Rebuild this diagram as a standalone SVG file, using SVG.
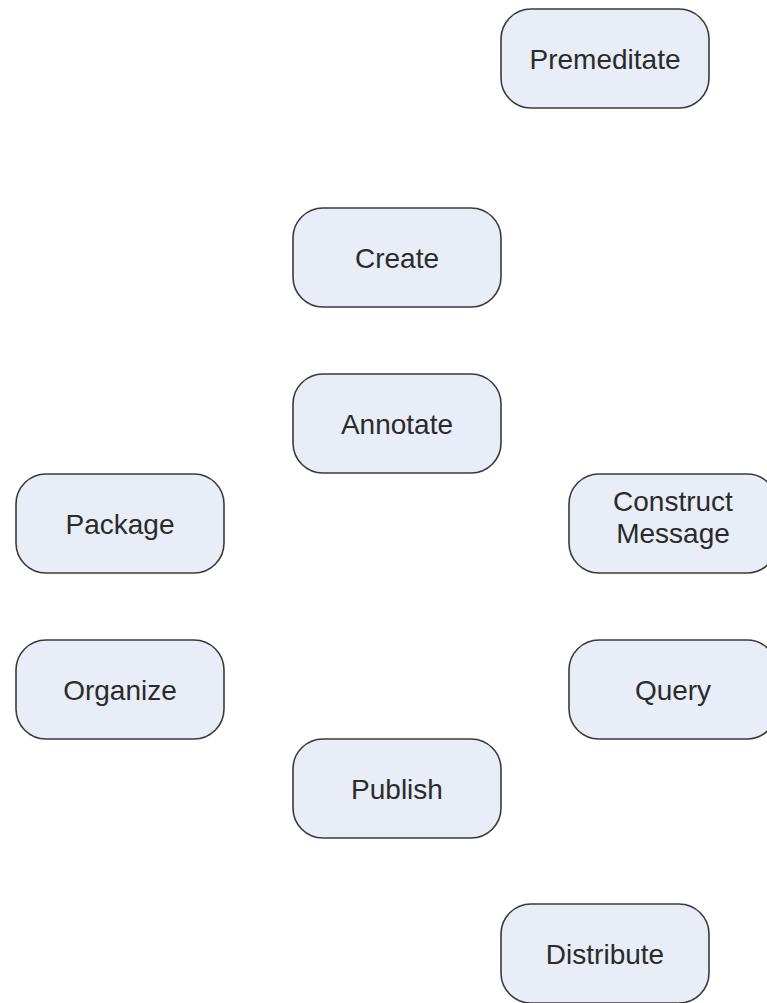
<svg xmlns="http://www.w3.org/2000/svg" width="767" height="1003" viewBox="0 0 767 1003">
  <style>
    .box { fill: #e8edf7; stroke: #3a3a3a; stroke-width: 1.6; }
    .lbl { font-family: "Liberation Sans", Arial, sans-serif; font-size: 28px; fill: #2b2b2b; text-anchor: middle; }
  </style>
  <rect width="767" height="1003" fill="#ffffff"/>
  <g id="connectors"></g>
  <g id="premeditate">
    <rect class="box" x="501" y="9" width="208" height="99" rx="30" ry="30"/>
    <text class="lbl" x="605" y="68.5">Premeditate</text>
  </g>
  <g id="create">
    <rect class="box" x="293" y="208" width="208" height="99" rx="30" ry="30"/>
    <text class="lbl" x="397" y="267.5">Create</text>
  </g>
  <g id="annotate">
    <rect class="box" x="293" y="374" width="208" height="99" rx="30" ry="30"/>
    <text class="lbl" x="397" y="433.5">Annotate</text>
  </g>
  <g id="package">
    <rect class="box" x="16" y="474" width="208" height="99" rx="30" ry="30"/>
    <text class="lbl" x="120" y="533.5">Package</text>
  </g>
  <g id="construct-message">
    <rect class="box" x="569" y="474" width="208" height="99" rx="30" ry="30"/>
    <text class="lbl" x="673" y="511">Construct</text>
    <text class="lbl" x="673" y="543">Message</text>
  </g>
  <g id="organize">
    <rect class="box" x="16" y="640" width="208" height="99" rx="30" ry="30"/>
    <text class="lbl" x="120" y="699.5">Organize</text>
  </g>
  <g id="query">
    <rect class="box" x="569" y="640" width="208" height="99" rx="30" ry="30"/>
    <text class="lbl" x="673" y="699.5">Query</text>
  </g>
  <g id="publish">
    <rect class="box" x="293" y="739" width="208" height="99" rx="30" ry="30"/>
    <text class="lbl" x="397" y="798.5">Publish</text>
  </g>
  <g id="distribute">
    <rect class="box" x="501" y="904" width="208" height="99" rx="30" ry="30"/>
    <text class="lbl" x="605" y="963.5">Distribute</text>
  </g>
</svg>
